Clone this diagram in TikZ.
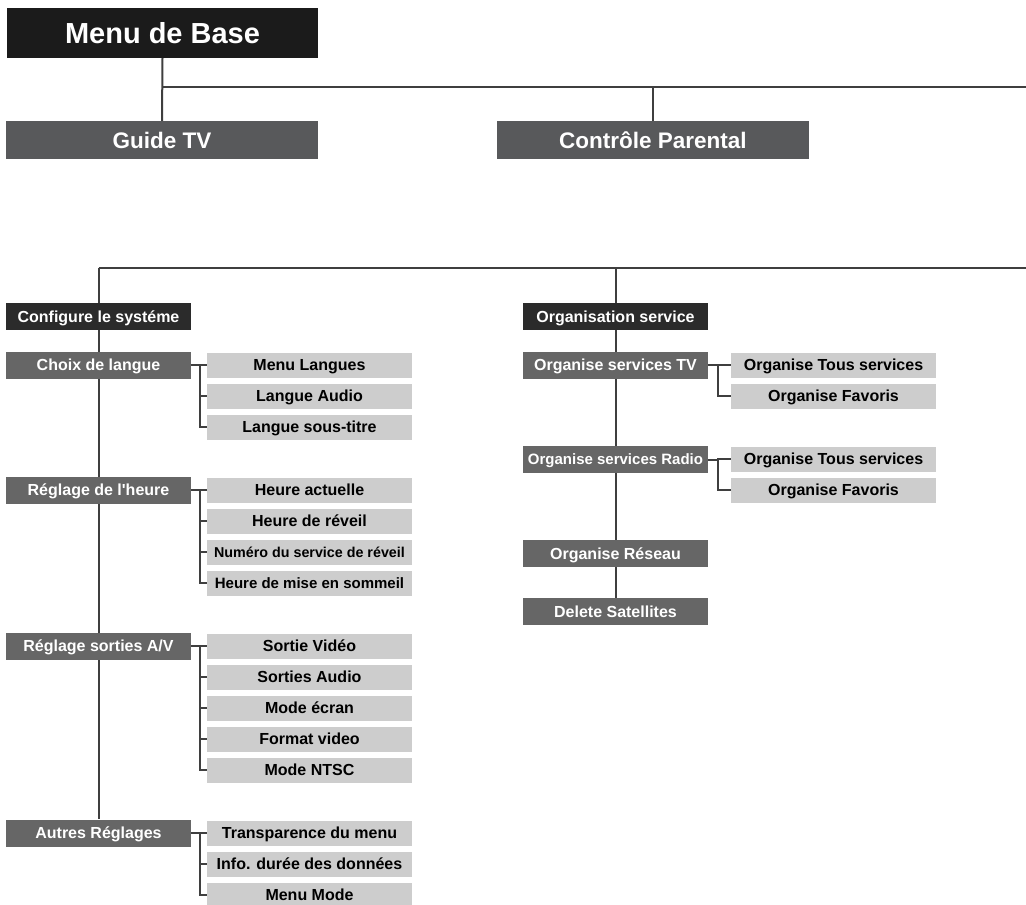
\documentclass[tikz,border=0pt]{standalone}
\usepackage{fontspec}
\setmainfont{Liberation Sans}
\usetikzlibrary{backgrounds}
\definecolor{cTop}{HTML}{1B1B1B}
\definecolor{cSec}{HTML}{58595B}
\definecolor{cHead}{HTML}{2B2B2B}
\definecolor{cMid}{HTML}{666666}
\definecolor{cLeaf}{HTML}{CDCDCD}
\definecolor{cLine}{HTML}{3F3F3F}
\newcommand{\fs}[1]{\fontsize{#1}{#1}\selectfont\bfseries}
\tikzset{
  box/.style={rectangle, inner sep=0pt, anchor=center, text depth=0pt},
  topbox/.style={box, fill=cTop, text=white, minimum width=311pt, minimum height=50pt, font=\fs{29}, text height=20.9pt},
  secbox/.style={box, fill=cSec, text=white, minimum width=312pt, minimum height=38pt, font=\fs{22.5}, text height=16.2pt},
  headbox/.style={box, fill=cHead, text=white, minimum width=185pt, minimum height=27pt, font=\fs{16}, text height=11.5pt},
  midbox/.style={box, fill=cMid, text=white, minimum width=185pt, minimum height=27pt, font=\fs{16}, text height=11.5pt},
  leafbox/.style={box, fill=cLeaf, text=black, minimum width=205pt, minimum height=25pt, font=\fs{16}, text height=11.5pt},
  conn/.style={draw=cLine, line width=2pt},
}
\begin{document}
\begin{tikzpicture}[x=1pt,y=-1pt]
\useasboundingbox (0,0) rectangle (1026,905);
% top level
\node[topbox] (mb) at (162.5,33) {Menu de Base};
\node[secbox] (gt) at (162,140) {Guide TV};
\node[secbox] (cp) at (653,140) {Contrôle Parental};
\coordinate (r1) at (1026,87);
\coordinate (r2) at (1026,268);
% left column
\node[headbox] (cs) at (98.5,316.5) {Configure le systéme};
\node[midbox] (cl) at (98.5,365) {Choix de langue};
\node[leafbox] (cl1) at (309.5,365) {Menu Langues};
\node[leafbox] (cl2) at (309.5,396) {Langue Audio};
\node[leafbox] (cl3) at (309.5,427) {Langue sous-titre};
\node[midbox] (rh) at (98.5,490) {Réglage de l\textquotesingle heure};
\node[leafbox] (rh1) at (309.5,490) {Heure actuelle};
\node[leafbox] (rh2) at (309.5,521) {Heure de réveil};
\node[leafbox, font=\fs{14.3}, text height=10.3pt] (rh3) at (309.5,552) {Numéro du service de réveil};
\node[leafbox, font=\fs{15}, text height=10.8pt] (rh4) at (309.5,583) {Heure de mise en sommeil};
\node[midbox] (rs) at (98.5,646) {Réglage sorties A/V};
\node[leafbox] (rs1) at (309.5,646) {Sortie Vidéo};
\node[leafbox] (rs2) at (309.5,677) {Sorties Audio};
\node[leafbox] (rs3) at (309.5,708) {Mode écran};
\node[leafbox] (rs4) at (309.5,739) {Format video};
\node[leafbox] (rs5) at (309.5,770) {Mode NTSC};
\node[midbox] (ar) at (98.5,833) {Autres Réglages};
\node[leafbox] (ar1) at (309.5,833) {Transparence du menu};
\node[leafbox] (ar2) at (309.5,864) {Info. durée des données};
\node[leafbox] (ar3) at (309.5,895) {Menu Mode};
% right column
\node[headbox] (os) at (615.5,316.5) {Organisation service};
\node[midbox] (otv) at (615.5,365) {Organise services TV};
\node[leafbox] (otv1) at (833.5,365) {Organise Tous services};
\node[leafbox] (otv2) at (833.5,396) {Organise Favoris};
\node[midbox, font=\fs{15}, text height=10.8pt] (ora) at (615.5,459.5) {Organise services Radio};
\node[leafbox] (ora1) at (833.5,459) {Organise Tous services};
\node[leafbox] (ora2) at (833.5,490) {Organise Favoris};
\node[midbox] (ore) at (615.5,553.5) {Organise Réseau};
\node[midbox] (ds) at (615.5,611.5) {Delete Satellites};
% connectors
\begin{scope}[on background layer]
\draw[conn] (mb.south) -- (gt.north);
\draw[conn] (mb.south |- r1) -- (r1);
\draw[conn] (cp.north |- r1) -- (cp.north);
\draw[conn] (cs.north |- r2) -- (r2);
\draw[conn] (cs.north |- r2) -- (ar.north);
\draw[conn] (os.north |- r2) -- (ds.north);
\foreach \p/\cs in {cl/{cl1,cl2,cl3}, rh/{rh1,rh2,rh3,rh4}, rs/{rs1,rs2,rs3,rs4,rs5}, ar/{ar1,ar2,ar3}}{
  \foreach \c in \cs {\draw[conn] (\p.east) -- ++(9,0) |- (\c.west);}
}
\foreach \p/\cs in {otv/{otv1,otv2}, ora/{ora1,ora2}}{
  \foreach \c in \cs {\draw[conn] (\p.east) -- ++(10,0) |- (\c.west);}
}
\end{scope}
\end{tikzpicture}
\end{document}
